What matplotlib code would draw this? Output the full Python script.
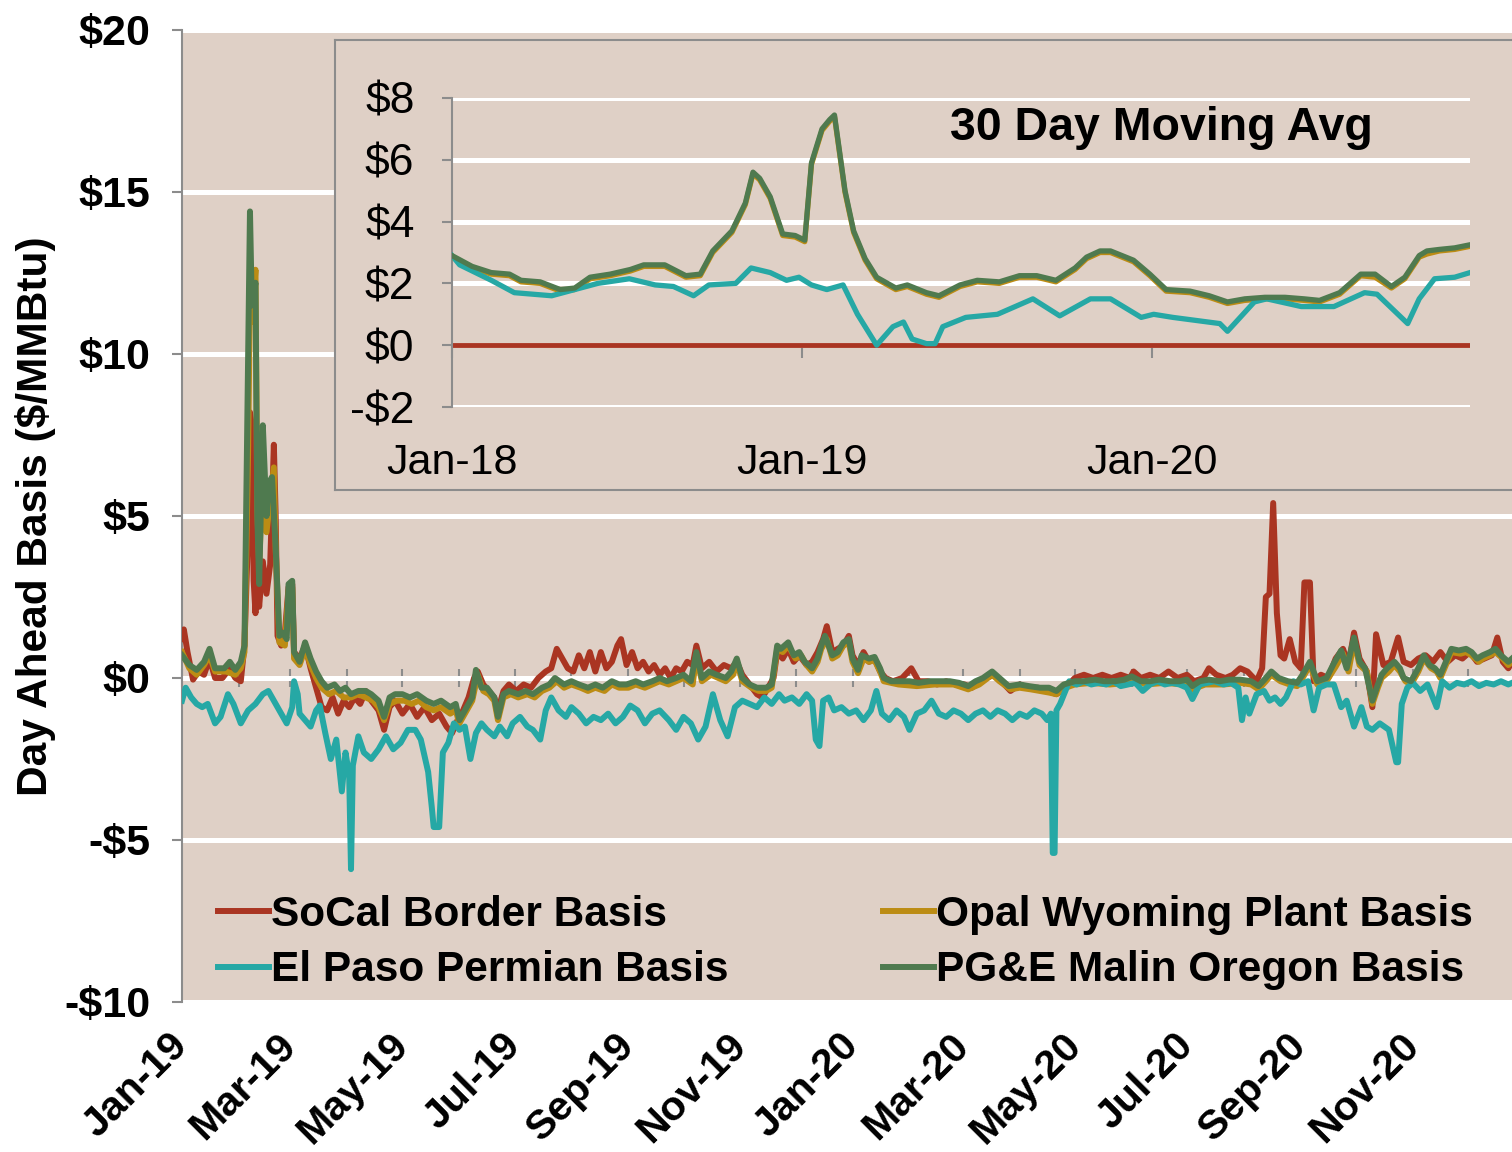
import numpy as np
import matplotlib
matplotlib.use("Agg")
import matplotlib.pyplot as plt
import matplotlib.dates as mdates
import matplotlib.ticker as mticker

plt.rcParams['font.family'] = ['Liberation Sans', 'DejaVu Sans']

# ---- daily basis, days counted from 2019-01-01 ----
socal_day = [0, 1, 3, 6, 9, 12, 15, 18, 22, 26, 29, 32, 34, 36, 37, 38, 39, 40, 41, 42, 44, 46, 48, 50, 51, 52,
             54, 56, 58, 60, 61, 64, 67, 70, 73, 76, 79, 82, 85, 88, 91, 94, 97, 100, 103, 107, 110, 113, 116,
             120, 124, 128, 132, 136, 140, 144, 147, 150, 153, 156, 159, 161, 164, 167, 170, 172, 175, 178, 182,
             186, 190, 194, 198, 201, 204, 207, 210, 213, 216, 219, 222, 225, 228, 231, 234, 237, 239, 242, 245,
             248, 251, 254, 257, 260, 263, 266, 269, 272, 275, 278, 280, 283, 287, 291, 295, 299, 302, 305, 309,
             313, 316, 319, 322, 324, 327, 330, 333, 336, 340, 343, 346, 349, 351, 354, 357, 360, 363, 365, 368,
             371, 374, 377, 380, 383, 387, 392, 397, 401, 406, 411, 416, 421, 426, 430, 434, 438, 442, 446, 451,
             456, 461, 466, 471, 476, 481, 486, 491, 496, 501, 506, 511, 516, 518, 522, 527, 532, 537, 542, 547,
             551, 556, 559, 563, 568, 572, 576, 580, 585, 588, 590, 592, 594, 596, 598, 600, 603, 606, 609, 611,
             614, 616, 620, 624, 628, 632, 635, 638, 641, 645, 648, 650, 654, 658, 662, 665, 669, 673, 677, 681,
             685, 689, 693, 697, 701, 705, 709, 713, 716, 719, 722, 724]
socal_val = [1.2, 1.5, 0.8, -0.05, 0.2, 0.1, 0.6, 0.0, 0.0, 0.3, 0.0, -0.1, 1.0, 4.5, 8.2, 7.8, 3.0, 2.0, 3.5, 2.2,
             3.6, 2.6, 3.5, 7.2, 5.0, 1.3, 1.0, 1.4, 2.8, 2.9, 0.8, 0.6, 1.0, 0.3, -0.3, -0.9, -1.0, -0.6, -1.1,
             -0.7, -0.9, -0.6, -0.8, -0.4, -0.7, -1.0, -1.6, -0.9, -0.7, -1.1, -0.8, -1.2, -0.9, -1.3, -1.1, -1.5,
             -1.7, -1.3, -1.0, -0.6, 0.0, 0.2, -0.2, -0.4, -0.6, -1.0, -0.4, -0.2, -0.4, -0.2, -0.3, 0.0, 0.2, 0.3,
             0.9, 0.6, 0.3, 0.2, 0.7, 0.3, 0.8, 0.2, 0.8, 0.3, 0.5, 1.0, 1.2, 0.4, 0.8, 0.3, 0.5, 0.2, 0.4, 0.1,
             0.3, 0.0, 0.3, 0.2, 0.5, 0.4, 1.0, 0.3, 0.5, 0.2, 0.4, 0.3, 0.5, 0.1, -0.2, -0.5, -0.6, -0.3, 0.0, 0.8,
             0.6, 0.9, 0.5, 0.7, 0.4, 0.5, 0.8, 1.2, 1.6, 0.8, 0.9, 1.0, 1.3, 0.7, 0.4, 0.8, 0.5, 0.6, 0.2, 0.0,
             -0.1, 0.0, 0.3, -0.1, -0.1, -0.2, -0.1, -0.2, -0.2, -0.3, -0.1, 0.0, 0.1, -0.1, -0.4, -0.2, -0.3, -0.3,
             -0.4, -0.5, -0.3, 0.0, 0.1, 0.0, 0.1, 0.0, 0.1, 0.0, 0.2, 0.0, 0.1, 0.0, 0.2, 0.0, 0.1, -0.1, 0.0, 0.3,
             0.1, 0.0, 0.1, 0.3, 0.2, -0.1, 0.3, 2.5, 2.6, 5.4, 2.0, 0.7, 0.6, 1.2, 0.5, 0.3, 2.95, 2.95, -0.1, 0.1,
             0.0, 0.6, 0.9, 0.4, 1.4, 0.6, 0.2, -0.9, 1.35, 0.4, 0.5, 1.25, 0.5, 0.4, 0.6, 0.7, 0.5, 0.8, 0.5, 0.7,
             0.6, 0.8, 0.5, 0.6, 0.7, 1.25, 0.5, 0.3, 0.5]

opal_day = [0, 4, 8, 12, 15, 18, 24, 29, 32, 34, 36, 37, 38, 40, 41, 42, 44, 46, 48, 50, 51, 53, 56, 58, 60, 61,
            64, 67, 70, 73, 76, 80, 84, 88, 92, 96, 100, 104, 107, 110, 113, 117, 121, 125, 129, 133, 137, 141,
            146, 149, 151, 155, 158, 161, 164, 167, 170, 172, 175, 179, 183, 188, 192, 196, 200, 204, 208, 212,
            217, 221, 225, 230, 234, 238, 243, 247, 252, 256, 260, 265, 269, 273, 278, 280, 283, 288, 292, 296,
            300, 302, 305, 310, 314, 318, 321, 324, 327, 330, 334, 337, 340, 343, 346, 348, 351, 354, 357, 360,
            363, 365, 368, 371, 374, 377, 380, 382, 390, 400, 410, 420, 428, 434, 441, 445, 451, 456, 462, 467,
            472, 476, 481, 486, 495, 505, 515, 518, 525, 535, 545, 550, 557, 567, 576, 582, 586, 590, 593, 598,
            603, 607, 610, 614, 618, 623, 628, 632, 635, 638, 641, 645, 648, 651, 653, 657, 660, 663, 666, 669,
            673, 676, 680, 683, 685, 688, 691, 696, 699, 702, 706, 708, 712, 715, 719, 722, 724]
opal_val = [0.8, 0.3, 0.1, 0.4, 0.7, 0.2, 0.2, 0.1, 0.3, 0.8, 7.0, 12.0, 11.0, 12.6, 5.2, 3.5, 6.2, 4.5, 5.5, 6.5,
            4.0, 1.1, 1.0, 2.7, 2.8, 0.6, 0.4, 0.9, 0.4, 0.0, -0.3, -0.5, -0.4, -0.6, -0.6, -0.5, -0.6, -0.7, -0.9,
            -1.3, -0.8, -0.7, -0.7, -0.8, -0.7, -0.9, -1.0, -0.9, -1.1, -1.0, -1.4, -1.0, -0.7, 0.1, -0.4, -0.5,
            -0.7, -1.3, -0.6, -0.5, -0.6, -0.5, -0.6, -0.4, -0.3, -0.1, -0.3, -0.2, -0.3, -0.4, -0.3, -0.4, -0.2,
            -0.3, -0.3, -0.2, -0.3, -0.2, -0.1, -0.2, -0.1, 0.0, -0.2, 0.7, -0.1, 0.1, 0.0, -0.1, 0.1, 0.5, -0.1,
            -0.3, -0.4, -0.4, -0.3, 0.9, 0.8, 1.0, 0.6, 0.7, 0.4, 0.2, 0.5, 0.9, 1.2, 0.6, 0.7, 1.0, 1.1, 0.5, 0.15,
            0.6, 0.5, 0.55, 0.2, -0.1, -0.2, -0.25, -0.2, -0.2, -0.35, -0.2, 0.1, -0.1, -0.35, -0.3, -0.35, -0.4,
            -0.45, -0.5, -0.3, -0.2, -0.15, -0.2, -0.15, -0.05, -0.2, -0.15, -0.2, -0.35, -0.2, -0.2, -0.15, -0.2,
            -0.35, -0.1, 0.1, -0.1, -0.2, -0.25, 0.0, 0.4, -0.2, -0.1, 0.35, 0.75, 0.2, 1.15, 0.4, 0.2, -0.8, -0.3,
            0.0, 0.2, 0.4, 0.2, -0.1, -0.2, 0.2, 0.6, 0.3, 0.2, 0.0, 0.4, 0.8, 0.75, 0.8, 0.7, 0.5, 0.6, 0.7, 0.8,
            0.6, 0.4, 0.5]

permian_day = [0, 2, 5, 8, 11, 14, 18, 21, 25, 28, 32, 36, 40, 44, 47, 50, 53, 57, 60, 61, 63, 64, 67, 70, 73,
               75, 78, 81, 84, 87, 89, 91, 92, 93, 96, 99, 103, 107, 111, 115, 119, 123, 127, 130, 134, 136,
               137, 140, 142, 145, 148, 151, 154, 157, 160, 163, 166, 170, 173, 177, 180, 184, 188, 191, 195,
               198, 201, 205, 209, 212, 216, 220, 224, 228, 232, 236, 240, 244, 248, 252, 256, 260, 265, 269,
               273, 277, 281, 285, 289, 293, 297, 301, 305, 309, 313, 317, 321, 325, 328, 332, 336, 340, 343,
               345, 347, 349, 352, 355, 359, 363, 367, 371, 375, 378, 381, 385, 389, 393, 396, 400, 404, 408,
               412, 416, 420, 424, 428, 432, 436, 440, 444, 448, 452, 456, 460, 464, 468, 471, 473, 474, 475,
               476, 478, 483, 487, 491, 495, 499, 503, 507, 511, 515, 519, 523, 527, 531, 535, 539, 543, 547,
               550, 554, 558, 562, 567, 571, 575, 577, 579, 581, 585, 589, 592, 595, 598, 601, 605, 609, 613,
               616, 619, 623, 627, 631, 634, 638, 642, 645, 648, 652, 657, 661, 662, 664, 667, 670, 674, 678,
               683, 686, 690, 694, 698, 702, 706, 710, 714, 718, 722, 724]
permian_val = [-0.7, -0.3, -0.6, -0.8, -0.9, -0.8, -1.4, -1.2, -0.5, -0.8, -1.4, -1.0, -0.8, -0.5, -0.4, -0.7,
               -1.0, -1.4, -0.9, -0.1, -0.5, -1.1, -1.3, -1.5, -1.0, -0.85, -1.7, -2.5, -1.9, -3.5, -2.3, -3.0,
               -5.9, -2.7, -1.8, -2.3, -2.5, -2.2, -1.8, -2.2, -2.0, -1.6, -1.6, -1.9, -2.9, -4.0, -4.6, -4.6,
               -2.3, -2.0, -1.4, -1.6, -1.5, -2.5, -1.7, -1.4, -1.6, -1.8, -1.5, -1.8, -1.4, -1.2, -1.5, -1.6,
               -1.9, -1.0, -0.6, -1.0, -1.2, -0.9, -1.1, -1.4, -1.2, -1.3, -1.1, -1.4, -1.2, -0.85, -1.0, -1.4,
               -1.1, -1.0, -1.3, -1.6, -1.2, -1.4, -1.9, -1.5, -0.5, -1.3, -1.8, -0.9, -0.7, -0.8, -0.9, -0.6,
               -0.8, -0.5, -0.7, -0.6, -0.8, -0.5, -0.7, -1.9, -2.1, -0.7, -0.6, -1.0, -0.9, -1.1, -1.0, -1.3,
               -1.0, -0.4, -1.1, -1.3, -1.0, -1.2, -1.6, -1.1, -1.0, -0.7, -1.1, -1.2, -1.0, -1.1, -1.3, -1.1,
               -1.0, -1.2, -1.0, -1.1, -1.3, -1.1, -1.2, -1.0, -1.1, -1.3, -1.1, -5.4, -5.4, -1.0, -0.8, -0.1,
               -0.2, -0.1, -0.2, -0.15, -0.2, -0.1, -0.25, -0.2, -0.15, -0.4, -0.2, -0.1, -0.2, -0.15, -0.2,
               -0.3, -0.65, -0.2, -0.15, -0.1, -0.2, -0.15, -0.3, -1.3, -0.6, -1.1, -0.5, -0.4, -0.7, -0.6, -0.8,
               -0.6, -0.1, -0.2, -0.1, -1.0, -0.3, -0.2, -0.2, -0.9, -0.7, -1.5, -0.9, -1.5, -1.6, -1.4, -1.6,
               -2.6, -2.6, -0.8, -0.3, -0.15, -0.4, -0.2, -0.9, -0.1, -0.3, -0.15, -0.2, -0.1, -0.25, -0.15, -0.2,
               -0.1, -0.2, -0.15]

malin_day = [0, 4, 8, 12, 15, 18, 23, 26, 29, 32, 34, 36, 37, 38, 40, 41, 42, 44, 46, 47, 49, 51, 53, 55, 57,
             58, 60, 61, 64, 67, 70, 73, 76, 79, 83, 86, 89, 92, 96, 100, 103, 107, 110, 113, 116, 120, 124,
             128, 133, 137, 141, 146, 149, 151, 155, 158, 160, 163, 166, 170, 172, 175, 178, 183, 187, 191,
             196, 200, 203, 208, 212, 216, 221, 225, 229, 234, 238, 242, 247, 251, 256, 260, 264, 269, 273,
             277, 280, 283, 287, 291, 296, 299, 302, 305, 309, 313, 318, 321, 324, 326, 330, 333, 336, 339,
             343, 346, 348, 350, 354, 357, 360, 363, 365, 368, 370, 374, 377, 380, 382, 386, 391, 396, 401,
             407, 412, 418, 423, 428, 432, 436, 441, 445, 450, 456, 461, 467, 472, 476, 480, 486, 491, 497,
             502, 508, 513, 517, 522, 527, 532, 538, 543, 547, 550, 554, 559, 565, 570, 576, 582, 586, 590,
             593, 597, 602, 607, 610, 614, 618, 623, 627, 631, 634, 638, 641, 644, 648, 651, 653, 656, 660,
             663, 665, 669, 673, 676, 679, 682, 685, 688, 691, 695, 699, 702, 705, 708, 712, 715, 718, 722, 724]
malin_val = [0.7, 0.4, 0.25, 0.5, 0.9, 0.3, 0.3, 0.5, 0.25, 0.5, 1.0, 10.0, 14.4, 11.5, 12.2, 5.0, 2.9, 7.8, 5.0,
             6.0, 6.2, 4.0, 1.3, 1.4, 1.2, 2.9, 3.0, 0.8, 0.5, 1.1, 0.6, 0.2, -0.1, -0.3, -0.2, -0.4, -0.3, -0.5,
             -0.4, -0.4, -0.5, -0.7, -1.2, -0.6, -0.5, -0.5, -0.6, -0.5, -0.7, -0.8, -0.7, -0.9, -0.8, -1.3, -0.9,
             -0.6, 0.25, -0.3, -0.3, -0.6, -1.2, -0.5, -0.4, -0.5, -0.4, -0.5, -0.3, -0.2, 0.0, -0.2, -0.1, -0.2,
             -0.3, -0.2, -0.3, -0.1, -0.2, -0.2, -0.1, -0.2, -0.1, 0.0, -0.1, 0.0, 0.1, -0.1, 0.8, 0.0, 0.2, 0.1,
             0.0, 0.2, 0.6, 0.0, -0.2, -0.3, -0.3, -0.2, 1.0, 0.9, 1.1, 0.7, 0.8, 0.5, 0.3, 0.6, 1.0, 1.3, 0.7,
             0.8, 1.1, 1.2, 0.6, 0.25, 0.7, 0.6, 0.65, 0.3, 0.0, -0.1, -0.1, -0.1, -0.15, -0.1, -0.1, -0.1, -0.15,
             -0.25, -0.1, 0.0, 0.2, 0.0, -0.25, -0.2, -0.25, -0.3, -0.3, -0.4, -0.2, -0.1, -0.1, -0.05, -0.1,
             -0.1, -0.05, 0.05, -0.1, -0.1, -0.05, -0.1, -0.1, -0.05, -0.25, -0.1, -0.05, -0.1, -0.05, -0.05,
             -0.1, -0.25, 0.0, 0.2, 0.0, -0.1, -0.15, 0.1, 0.5, -0.1, 0.0, 0.45, 0.85, 0.3, 1.25, 0.5, 0.3, -0.7,
             -0.2, 0.1, 0.3, 0.5, 0.3, 0.0, -0.1, 0.3, 0.7, 0.4, 0.3, 0.1, 0.5, 0.9, 0.85, 0.9, 0.8, 0.6, 0.7, 0.8,
             0.9, 0.7, 0.5, 0.6]

# ---- 30 day moving averages, days counted from 2018-01-01 ----
ma_day = [0, 21, 41, 60, 72, 92, 113, 128, 144, 165, 186, 200, 222, 244, 259, 272, 292, 306, 314, 321, 332, 345,
          358, 368, 375, 386, 394, 399, 410, 419, 431, 443, 463, 475, 495, 508, 530, 548, 571, 592, 610, 630, 650,
          662, 676, 687, 711, 728, 745, 770, 790, 809, 827, 848, 869, 889, 905, 926, 948, 963, 980, 994, 1009,
          1017, 1030, 1046, 1062]
ma_malin = [2.9, 2.55, 2.35, 2.3, 2.1, 2.05, 1.8, 1.85, 2.2, 2.3, 2.45, 2.6, 2.6, 2.25, 2.3, 3.05, 3.7, 4.6, 5.6,
            5.4, 4.8, 3.6, 3.55, 3.4, 5.9, 7.0, 7.3, 7.45, 5.0, 3.7, 2.8, 2.2, 1.85, 1.95, 1.7, 1.6, 1.95, 2.1,
            2.05, 2.25, 2.25, 2.1, 2.5, 2.85, 3.05, 3.05, 2.75, 2.3, 1.8, 1.75, 1.6, 1.4, 1.5, 1.55, 1.55, 1.5,
            1.45, 1.7, 2.3, 2.3, 1.9, 2.2, 2.9, 3.05, 3.1, 3.15, 3.25]
ma_opal = [2.85, 2.5, 2.3, 2.25, 2.05, 2.0, 1.75, 1.8, 2.15, 2.25, 2.4, 2.55, 2.55, 2.2, 2.25, 3.0, 3.65, 4.55,
           5.55, 5.35, 4.75, 3.55, 3.5, 3.35, 5.85, 6.95, 7.25, 7.4, 4.95, 3.65, 2.75, 2.15, 1.8, 1.9, 1.65, 1.55,
           1.9, 2.05, 2.0, 2.2, 2.2, 2.05, 2.45, 2.8, 3.0, 3.0, 2.7, 2.25, 1.75, 1.7, 1.55, 1.35, 1.45, 1.5, 1.5,
           1.45, 1.4, 1.65, 2.25, 2.2, 1.85, 2.15, 2.85, 2.95, 3.05, 3.1, 3.2]
ma_perm_day = [0, 8, 41, 65, 104, 128, 152, 185, 212, 231, 252, 268, 296, 312, 332, 349, 362, 375, 391, 408, 423,
               443, 460, 471, 480, 495, 504, 512, 536, 569, 606, 634, 666, 687, 719, 732, 752, 801, 809, 837, 850,
               886, 920, 952, 965, 997, 1009, 1025, 1046, 1062]
ma_permian = [2.9, 2.6, 2.1, 1.7, 1.6, 1.8, 2.0, 2.15, 1.95, 1.9, 1.6, 1.95, 2.0, 2.5, 2.35, 2.1, 2.2, 1.95, 1.8,
              1.95, 1.0, 0.0, 0.6, 0.75, 0.2, 0.05, 0.05, 0.6, 0.9, 1.0, 1.5, 0.95, 1.5, 1.5, 0.9, 1.0, 0.9, 0.7,
              0.45, 1.4, 1.5, 1.25, 1.25, 1.7, 1.65, 0.7, 1.5, 2.15, 2.2, 2.35]

main_ticks = [-10, -5, 0, 5, 10, 15, 20]
inset_ticks = [-2, 0, 2, 4, 6, 8]

RED, GOLD, CYAN, GREEN = '#AA3522', '#BC8C14', '#26A8A5', '#4F7A4F'
BG, GRAY = '#DFD0C6', '#8C8C8C'


def to_dates(start, days):
    return np.datetime64(start) + np.array(days).astype('timedelta64[D]')


def dollar(v, pos=None):
    v = int(round(v))
    return f'-${-v}' if v < 0 else f'${v}'


fig = plt.figure(figsize=(15.12, 11.52), dpi=100)
ax = fig.add_axes([182 / 1512, 150 / 1152, 1330 / 1512, 972 / 1152])
ax.set_facecolor(BG)

LW = 4.3
l1, = ax.plot(to_dates('2019-01-01', socal_day), socal_val, color=RED, lw=LW, label='SoCal Border Basis', zorder=3)
l2, = ax.plot(to_dates('2019-01-01', opal_day), opal_val, color=GOLD, lw=LW, label='Opal Wyoming Plant Basis', zorder=3)
l3, = ax.plot(to_dates('2019-01-01', permian_day), permian_val, color=CYAN, lw=LW, label='El Paso Permian Basis', zorder=3)
l4, = ax.plot(to_dates('2019-01-01', malin_day), malin_val, color=GREEN, lw=LW, label='PG&E Malin Oregon Basis', zorder=3)

ax.set_xlim(np.datetime64('2019-01-01'), np.datetime64('2019-01-01') + np.timedelta64(724, 'D'))
ax.set_ylim(-10, 20)
ax.set_yticks(main_ticks)
ax.yaxis.set_major_formatter(mticker.FuncFormatter(dollar))
ax.grid(axis='y', color='white', lw=3.6)
ax.set_axisbelow(True)
for s in ['top', 'right', 'bottom']:
    ax.spines[s].set_visible(False)
ax.spines['left'].set_color(GRAY)
ax.spines['left'].set_linewidth(1.5)
ax.tick_params(axis='y', colors=GRAY, length=7, width=1.5, pad=16, labelcolor='black', labelsize=31)
for t in ax.get_yticklabels():
    t.set_fontweight('bold')

ax.xaxis.set_major_locator(mdates.MonthLocator(bymonth=[1, 3, 5, 7, 9, 11]))
ax.xaxis.set_major_formatter(mdates.DateFormatter('%b-%y'))
ax.tick_params(axis='x', length=0, pad=27, labelsize=29.5)
for t in ax.get_xticklabels():
    t.set_rotation(45)
    t.set_ha('right')
    t.set_va('center')
    t.set_rotation_mode('anchor')
    t.set_fontweight('bold')

# category axis crossing at zero with monthly tick marks
sec = ax.secondary_xaxis(1 / 3)
sec.xaxis.set_major_locator(mdates.MonthLocator())
sec.tick_params(axis='x', direction='inout', length=13, width=1.5, colors=GRAY, labelbottom=False)
sec.spines['bottom'].set_color(GRAY)
sec.spines['bottom'].set_linewidth(2)

ax.set_ylabel('Day Ahead Basis ($/MMBtu)', fontsize=30.5, fontweight='bold')
ax.yaxis.set_label_coords(-0.095, 0.5)

leg = ax.legend(handles=[l1, l3, l2, l4], ncol=2, loc='lower left', bbox_to_anchor=(0.027, 0.012),
                frameon=False, prop={'size': 30.5, 'weight': 'bold'}, handlelength=1.2, handletextpad=0.05,
                columnspacing=3.65, labelspacing=0.36, borderpad=0, borderaxespad=0)
for h in leg.get_lines():
    h.set_linewidth(LW)

# ---- inset ----
frame = fig.add_axes([335 / 1512, 662 / 1152, 1200 / 1512, 450 / 1152])
frame.set_facecolor(BG)
frame.set_xticks([])
frame.set_yticks([])
for s in frame.spines.values():
    s.set_color(GRAY)
    s.set_linewidth(1.5)

ins = fig.add_axes([452 / 1512, 745 / 1152, 1018 / 1512, 309 / 1152])
ins.set_facecolor(BG)
ins.axhline(0, color=RED, lw=3.5, zorder=2)
ins.plot(to_dates('2018-01-01', ma_day), ma_opal, color=GOLD, lw=3.8, zorder=3)
ins.plot(to_dates('2018-01-01', ma_perm_day), ma_permian, color=CYAN, lw=3.8, zorder=3)
ins.plot(to_dates('2018-01-01', ma_day), ma_malin, color=GREEN, lw=3.8, zorder=3)
ins.set_xlim(np.datetime64('2018-01-01'), np.datetime64('2018-01-01') + np.timedelta64(1062, 'D'))
ins.set_ylim(-2, 8)
ins.set_yticks(inset_ticks)
ins.yaxis.set_major_formatter(mticker.FuncFormatter(dollar))
ins.grid(axis='y', color='white', lw=3.6)
ins.set_axisbelow(True)
for s in ['top', 'right', 'bottom']:
    ins.spines[s].set_visible(False)
ins.spines['left'].set_color(GRAY)
ins.spines['left'].set_linewidth(1.5)
ins.tick_params(axis='y', colors=GRAY, length=7, width=1.5, pad=20, labelcolor='black', labelsize=32)
ins.xaxis.set_major_locator(mdates.YearLocator())
ins.xaxis.set_major_formatter(mdates.DateFormatter('%b-%y'))
ins.tick_params(axis='x', length=0, pad=26, labelsize=31)
isec = ins.secondary_xaxis(0.2)
isec.xaxis.set_major_locator(mdates.YearLocator())
isec.tick_params(axis='x', direction='out', length=9, width=1.5, colors=GRAY, labelbottom=False)
isec.spines['bottom'].set_visible(False)
ins.text(0.6965, 0.902, '30 Day Moving Avg', transform=ins.transAxes, ha='center', va='center',
         fontsize=33.5, fontweight='bold')

fig.savefig('out.png', dpi=100)
